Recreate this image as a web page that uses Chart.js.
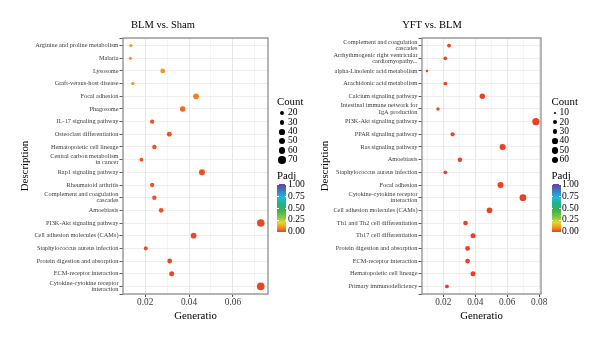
<!DOCTYPE html>
<html><head><meta charset="utf-8">
<script src="https://cdn.jsdelivr.net/npm/chart.js@4.4.1/dist/chart.umd.min.js"></script>
<style>
html,body{margin:0;padding:0;background:#fff;}
body{width:600px;height:340px;position:relative;overflow:hidden;font-family:'Liberation Serif',serif;}
canvas{position:absolute;top:0;}
.t{position:absolute;white-space:nowrap;color:#000;}
.dot{position:absolute;background:#000;border-radius:50%;}
.bar{position:absolute;}
</style></head><body>
<canvas id="c1" width="300" height="340" style="left:0"></canvas>
<canvas id="c2" width="300" height="340" style="left:300px"></canvas>
<div id="overlay"></div>
<script>
// ---------------- data ----------------
const leftTitle = 'BLM vs. Sham';
const leftCategories = [
  'Arginine and proline metabolism','Malaria','Lysosome','Graft-versus-host disease','Focal adhesion',
  'Phagosome','IL-17 signaling pathway','Osteoclast differentiation','Hematopoietic cell lineage',
  'Central carbon metabolism\nin cancer','Rap1 signaling pathway','Rheumatoid arthritis',
  'Complement and coagulation\ncascades','Amoebiasis','PI3K-Akt signaling pathway',
  'Cell adhesion molecules (CAMs)','Staphylococcus aureus infection','Protein digestion and absorption',
  'ECM-receptor interaction','Cytokine-cytokine receptor\ninteraction'
];
const leftGeneratio = [0.0135,0.0133,0.0280,0.0144,0.0432,0.0371,0.0232,0.0310,0.0242,0.0183,
                       0.0459,0.0232,0.0242,0.0273,0.0727,0.0421,0.0203,0.0312,0.0321,0.0727];
const leftCount = [13,13,27,14,42,36,23,30,24,18,45,23,24,27,71,41,20,30,31,71];
const leftPadj = [0.11,0.11,0.10,0.10,0.075,0.05,0.02,0.02,0.02,0.02,0.02,0.02,0.02,0.02,0.01,0.01,0.02,0.01,0.01,0.005];
const leftCountBreaks = [20,30,40,50,60,70];

const rightTitle = 'YFT vs. BLM';
const rightCategories = [
  'Complement and coagulation\ncascades','Arrhythmogenic right ventricular\ncardiomyopathy...',
  'alpha-Linolenic acid metabolism','Arachidonic acid metabolism','Calcium signaling pathway',
  'Intestinal immune network for\nIgA production','PI3K-Akt signaling pathway','PPAR signaling pathway',
  'Ras signaling pathway','Amoebiasis','Staphylococcus aureus infection','Focal adhesion',
  'Cytokine-cytokine receptor\ninteraction','Cell adhesion molecules (CAMs)','Th1 and Th2 cell differentiation',
  'Th17 cell differentiation','Protein digestion and absorption','ECM-receptor interaction',
  'Hematopoietic cell lineage','Primary immunodeficiency'
];
const rightGeneratio = [0.0236,0.0213,0.0098,0.0213,0.0444,0.0167,0.0779,0.0258,0.0571,0.0304,
                        0.0213,0.0558,0.0698,0.0489,0.0339,0.0386,0.0352,0.0352,0.0386,0.0223];
const rightCount = [19,17,8,17,36,14,63,21,46,25,17,45,57,40,27,31,29,29,31,18];
const rightPadj = [0.004,0.004,0.006,0.004,0.001,0.005,0.0001,0.003,0.0005,0.002,
                   0.003,0.0005,0.0001,0.001,0.002,0.001,0.002,0.002,0.001,0.004];
const rightCountBreaks = [10,20,30,40,50,60];

const padjBreaks = ['1.00','0.75','0.50','0.25','0.00'];
const xLabel = 'Generatio';
const yLabel = 'Description';

// ---------------- styling helpers ----------------
const FONT = "'Liberation Serif', serif";
Chart.defaults.font.family = FONT;
const padjStops = [[0,'#EF3E23'],[0.1,'#F7931E'],[0.2,'#D9DE26'],[0.3,'#8DC63F'],[0.45,'#39B54A'],
                   [0.6,'#1DB38E'],[0.72,'#1CBBE3'],[0.86,'#3D79C6'],[1,'#6A3F9D']];
function hex2rgb(h){return [1,3,5].map(i=>parseInt(h.substr(i,2),16));}
function padjColor(v){
  v = Math.max(0, Math.min(1, v));
  for (let i = 1; i < padjStops.length; i++) {
    const [p1,c1] = padjStops[i-1], [p2,c2] = padjStops[i];
    if (v <= p2) {
      const t = (v - p1) / (p2 - p1), a = hex2rgb(c1), b = hex2rgb(c2);
      return 'rgb(' + a.map((x,k)=>Math.round(x + (b[k]-x)*t)).join(',') + ')';
    }
  }
  return padjStops[padjStops.length-1][1];
}
const sizeOf = c => 0.45 * Math.sqrt(c);
const isMajor = v => Math.round(v * 100) % 2 === 0;

const panelBorder = {
  id: 'panelBorder',
  afterDatasetsDraw(chart) {
    const {ctx, chartArea: a} = chart;
    ctx.save();
    ctx.strokeStyle = '#8f8f8f';
    ctx.lineWidth = 1.3;
    ctx.strokeRect(a.left, a.top, a.right - a.left, a.bottom - a.top);
    ctx.restore();
  }
};

function makeChart(id, cats, gen, cnt, padj, xMin, xMax, yWidth, padRight) {
  return new Chart(document.getElementById(id), {
    type: 'scatter',
    data: {
      datasets: [{
        data: gen.map((g, i) => ({x: g, y: i})),
        pointRadius: c => sizeOf(cnt[c.dataIndex]),
        pointHoverRadius: c => sizeOf(cnt[c.dataIndex]),
        backgroundColor: c => padjColor(padj[c.dataIndex]),
        borderWidth: 0
      }]
    },
    options: {
      responsive: false, animation: false, devicePixelRatio: 1,
      layout: {padding: {top: 38, right: padRight, left: 0, bottom: 0}},
      plugins: {legend: {display: false}, tooltip: {enabled: false}},
      scales: {
        x: {
          type: 'linear', min: xMin, max: xMax,
          afterFit: s => { s.height = 46; },
          border: {display: false},
          grid: {
            color: c => (c.tick && isMajor(c.tick.value)) ? '#e4e4e4' : '#eeeeee',
            lineWidth: c => (c.tick && isMajor(c.tick.value)) ? 0.9 : 0.6,
            tickLength: 3,
            tickColor: c => (c.tick && isMajor(c.tick.value)) ? '#333' : 'rgba(0,0,0,0)'
          },
          ticks: {
            stepSize: 0.01, includeBounds: false, autoSkip: false, maxRotation: 0, padding: 0,
            color: '#3a3a3a', font: {size: 9.3},
            callback: v => isMajor(v) ? v.toFixed(2) : ''
          },
          title: {display: true, text: xLabel, color: '#000', font: {size: 10.8}, padding: {top: 0, bottom: 17.5}}
        },
        y: {
          type: 'linear', reverse: true, min: -0.6, max: 19.6,
          afterFit: s => { s.width = yWidth; },
          border: {display: false},
          grid: {color: '#eaeaea', lineWidth: 0.8, tickLength: 3.5, tickColor: '#333'},
          ticks: {
            stepSize: 1, autoSkip: false, padding: 1, color: '#3a3a3a',
            font: {size: 6.3, lineHeight: 1.0},
            callback: v => (cats[v] !== undefined ? cats[v].split('\n') : '')
          },
          title: {display: true, text: yLabel, color: '#000', font: {size: 10.8}, padding: {top: 18.5, bottom: 0}}
        }
      }
    },
    plugins: [panelBorder]
  });
}

makeChart('c1', leftCategories, leftGeneratio, leftCount, leftPadj, 0.0099, 0.0760, 123, 32);
makeChart('c2', rightCategories, rightGeneratio, rightCount, rightPadj, 0.0067, 0.0811, 122, 59);

// ---------------- titles & legends (HTML text) ----------------
const ov = document.getElementById('overlay');
function addText(txt, x, y, size, opts = {}) {
  const d = document.createElement('div');
  d.className = 't';
  d.textContent = txt;
  d.style.fontSize = size + 'px';
  d.style.lineHeight = size + 'px';
  d.style.top = (y - size / 2) + 'px';
  d.style.left = x + 'px';
  if (opts.center) d.style.transform = 'translateX(-50%)';
  if (opts.color) d.style.color = opts.color;
  ov.appendChild(d);
  return d;
}
addText(leftTitle, 163, 25, 10.5, {center: true});
addText(rightTitle, 432, 25, 10.5, {center: true});

const gradCss = 'linear-gradient(to top,' + padjStops.map(([p,c]) => c + ' ' + (p*100) + '%').join(',') + ')';
function legend(x0, breaks, dotCx, labX, barW, barLabX) {
  addText('Count', x0, 101, 10.8);
  breaks.forEach((b, i) => {
    const y = 113 + i * 9.4;
    const r = sizeOf(b);
    const d = document.createElement('div');
    d.className = 'dot';
    d.style.left = (dotCx - r) + 'px'; d.style.top = (y - r) + 'px';
    d.style.width = (2*r) + 'px'; d.style.height = (2*r) + 'px';
    ov.appendChild(d);
    addText(String(b), labX, y, 9.5);
  });
  addText('Padj', x0, 175, 10.8);
  const bar = document.createElement('div');
  bar.className = 'bar';
  bar.style.left = x0 + 'px'; bar.style.top = '184px';
  bar.style.width = barW + 'px'; bar.style.height = '48px';
  bar.style.background = gradCss;
  ov.appendChild(bar);
  padjBreaks.forEach((lab, i) => {
    const y = 184.5 + i * 11.9;
    addText(lab, barLabX, y, 9.5);
    [0, barW - 1.5].forEach(off => {
      const tk = document.createElement('div');
      tk.style.cssText = 'position:absolute;height:0.6px;width:1.5px;background:#fff;';
      tk.style.left = (x0 + off) + 'px';
      tk.style.top = (y - 0.3) + 'px';
      ov.appendChild(tk);
    });
  });
}
legend(277, leftCountBreaks, 282, 288, 9, 288);
legend(551.5, rightCountBreaks, 555, 559.5, 9, 562);
</script>
</body></html>
